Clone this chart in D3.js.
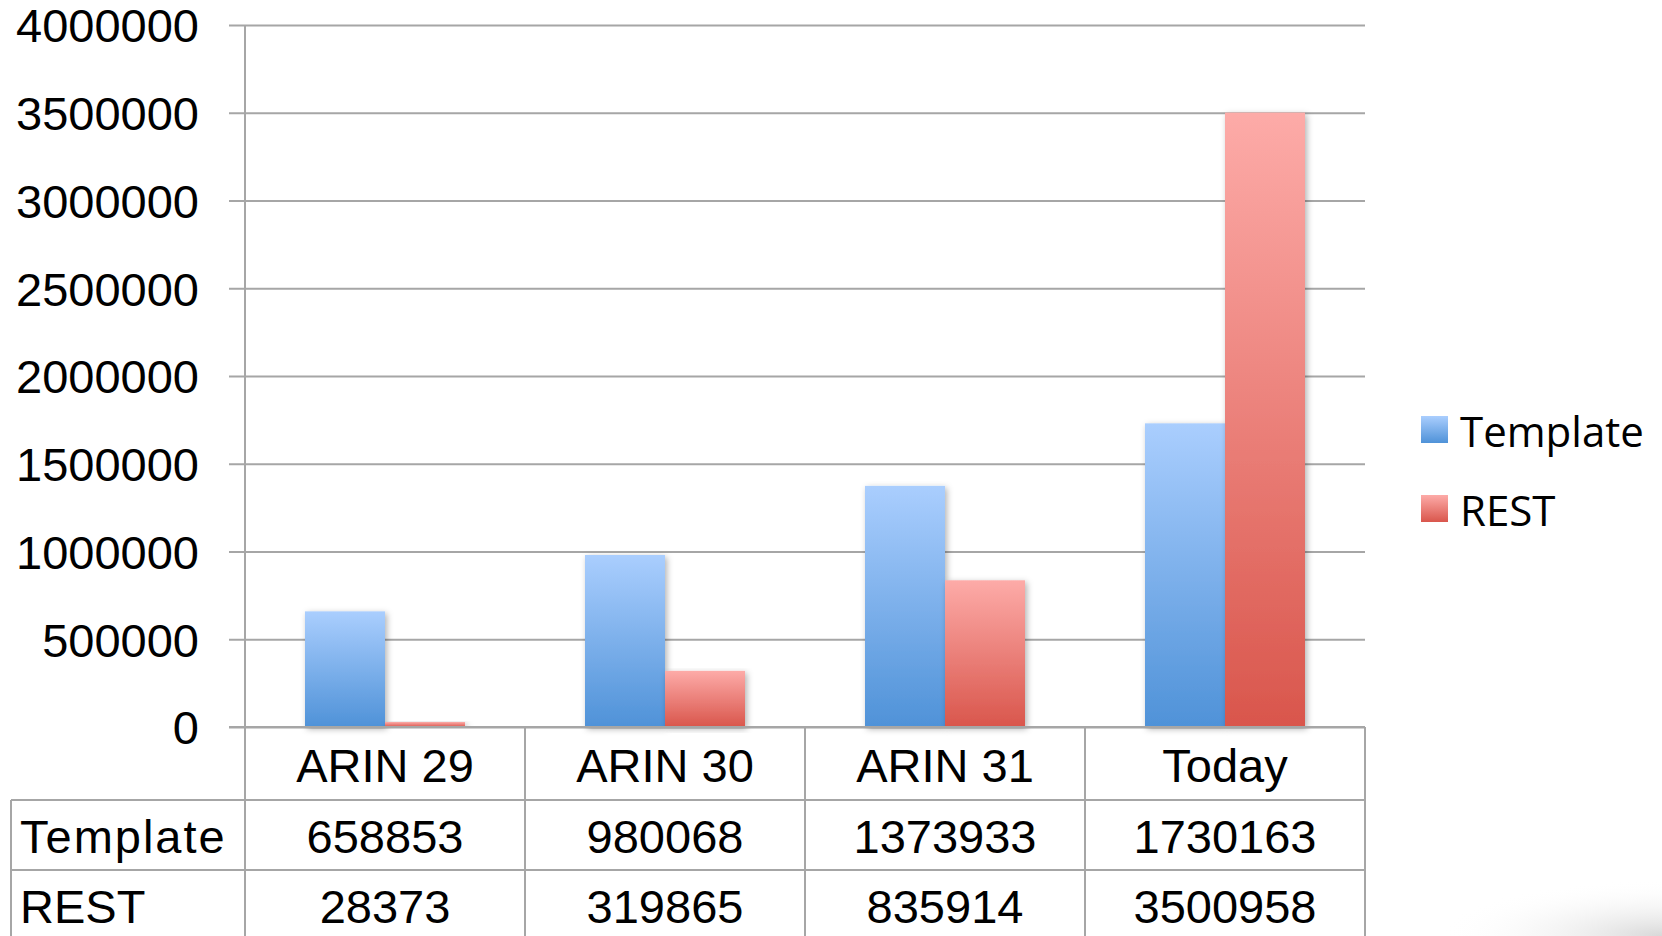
<!DOCTYPE html>
<html>
<head>
<meta charset="utf-8">
<script src="https://cdn.jsdelivr.net/npm/d3@7"></script>
<style>
  html, body { margin: 0; padding: 0; background: #fff; }
  svg { display: block; }
  .tbl text { font-family: "Liberation Sans", Arial, sans-serif; font-size: 47px; fill: #000; }
</style>
</head>
<body>
<svg id="svg" width="1662" height="936"></svg>
<script>
const categories = ['ARIN 29', 'ARIN 30', 'ARIN 31', 'Today'];
const series = ['Template', 'REST'];
const templateValues = [658853, 980068, 1373933, 1730163];
const restValues = [28373, 319865, 835914, 3500958];
const yTicks = [0, 500000, 1000000, 1500000, 2000000, 2500000, 3000000, 3500000, 4000000];

const W = 1662, H = 936;
const plotLeft = 245, plotRight = 1365, plotTop = 25, zeroY = 727;
const rowY = [727, 800, 870, 936];

const svg = d3.select('#svg');
const defs = svg.append('defs');

const grads = {
  Template: ['#aacefe', '#4f92d8'],
  REST: ['#fdaba8', '#d9564c']
};
Object.entries(grads).forEach(([k, c]) => {
  const g = defs.append('linearGradient').attr('id', 'g-' + k)
    .attr('x1', 0).attr('y1', 0).attr('x2', 0).attr('y2', 1);
  g.append('stop').attr('offset', '0%').attr('stop-color', c[0]);
  g.append('stop').attr('offset', '100%').attr('stop-color', c[1]);
});
const f = defs.append('filter').attr('id', 'shadow')
  .attr('x', '-20%').attr('y', '-5%').attr('width', '140%').attr('height', '115%');
f.append('feDropShadow').attr('dx', 2).attr('dy', 2).attr('stdDeviation', 3)
  .attr('flood-color', '#000').attr('flood-opacity', 0.3);

const rg = defs.append('radialGradient').attr('id', 'corner').attr('cx', 1).attr('cy', 1).attr('r', 1);
rg.append('stop').attr('offset', '0%').attr('stop-color', '#d8d8d8');
rg.append('stop').attr('offset', '100%').attr('stop-color', '#fff').attr('stop-opacity', 0);
svg.append('rect').attr('x', 1440).attr('y', 880).attr('width', 222).attr('height', 56).attr('fill', 'url(#corner)');

const y = d3.scaleLinear().domain([0, 4000000]).range([zeroY, plotTop]);
const x0 = d3.scaleBand().domain(categories).range([plotLeft, plotRight]).paddingInner(0).paddingOuter(0);
const x1 = d3.scaleBand().domain(series).range([0, x0.bandwidth()]).paddingInner(0).paddingOuter(0.75);

const lineColor = '#a6a6a6';

// gridlines + y axis labels
const yAxis = d3.axisLeft(y).tickValues(yTicks).tickSize(-(plotRight - plotLeft)).tickSizeOuter(0).tickPadding(46)
  .tickFormat(d3.format('d'));
const ga = svg.append('g').attr('transform', `translate(${plotLeft},0)`).call(yAxis);
ga.select('.domain').remove();
ga.selectAll('.tick line').attr('stroke', lineColor).attr('stroke-width', 2).attr('x1', -16);
ga.selectAll('.tick text')
  .attr('font-family', '"Liberation Sans", Arial, sans-serif')
  .attr('font-size', 47).attr('fill', '#000').attr('dy', '0.36em');

// vertical axis line
svg.append('line').attr('x1', plotLeft).attr('x2', plotLeft).attr('y1', plotTop).attr('y2', H)
  .attr('stroke', lineColor).attr('stroke-width', 2);

// bars
const data = categories.map((c, i) => ({ cat: c, vals: [
  { key: 'Template', value: templateValues[i] },
  { key: 'REST', value: restValues[i] }
]}));
const groups = svg.append('g').selectAll('g').data(data).enter().append('g')
  .attr('transform', d => `translate(${x0(d.cat)},0)`);
groups.selectAll('rect').data(d => d.vals).enter().append('rect')
  .attr('x', d => x1(d.key))
  .attr('y', d => y(d.value))
  .attr('width', x1.bandwidth())
  .attr('height', d => zeroY - y(d.value))
  .attr('fill', d => 'url(#g-' + d.key + ')')
  .attr('filter', 'url(#shadow)');

// data table
const tbl = svg.append('g').attr('class', 'tbl');
tbl.append('line').attr('x1', plotLeft - 16).attr('x2', plotRight).attr('y1', zeroY).attr('y2', zeroY)
  .attr('stroke', lineColor).attr('stroke-width', 2);
[rowY[1], rowY[2]].forEach(yy => {
  tbl.append('line').attr('x1', 11).attr('x2', plotRight).attr('y1', yy).attr('y2', yy)
    .attr('stroke', lineColor).attr('stroke-width', 2);
});
tbl.append('line').attr('x1', 11).attr('x2', 11).attr('y1', rowY[1]).attr('y2', H)
  .attr('stroke', lineColor).attr('stroke-width', 2);
categories.forEach(c => {
  const xr = x0(c) + x0.bandwidth();
  tbl.append('line').attr('x1', xr).attr('x2', xr).attr('y1', zeroY).attr('y2', H)
    .attr('stroke', lineColor).attr('stroke-width', 2);
});
tbl.selectAll('.cat').data(categories).enter().append('text')
  .attr('x', d => x0(d) + x0.bandwidth() / 2).attr('y', 782)
  .attr('text-anchor', 'middle').text(d => d);
const rows = [
  { name: series[0], vals: templateValues, base: 853, ls: 2 },
  { name: series[1], vals: restValues, base: 923, ls: 0 }
];
rows.forEach(r => {
  tbl.append('text').attr('x', 20).attr('y', r.base).attr('letter-spacing', r.ls).text(r.name);
  tbl.selectAll(null).data(r.vals).enter().append('text')
    .attr('x', (d, i) => x0(categories[i]) + x0.bandwidth() / 2).attr('y', r.base)
    .attr('text-anchor', 'middle').text(d => d);
});

// legend
const lg = svg.append('g');
series.forEach((s, i) => {
  const yy = 416 + i * 79;
  lg.append('rect').attr('x', 1421).attr('y', yy).attr('width', 27).attr('height', 27)
    .attr('fill', 'url(#g-' + s + ')');
  lg.append('text').attr('x', 1460).attr('y', yy + 31)
    .attr('font-family', '"Open Sans", sans-serif').attr('font-size', 42).attr('fill', '#000')
    .text(s);
});
</script>
</body>
</html>
